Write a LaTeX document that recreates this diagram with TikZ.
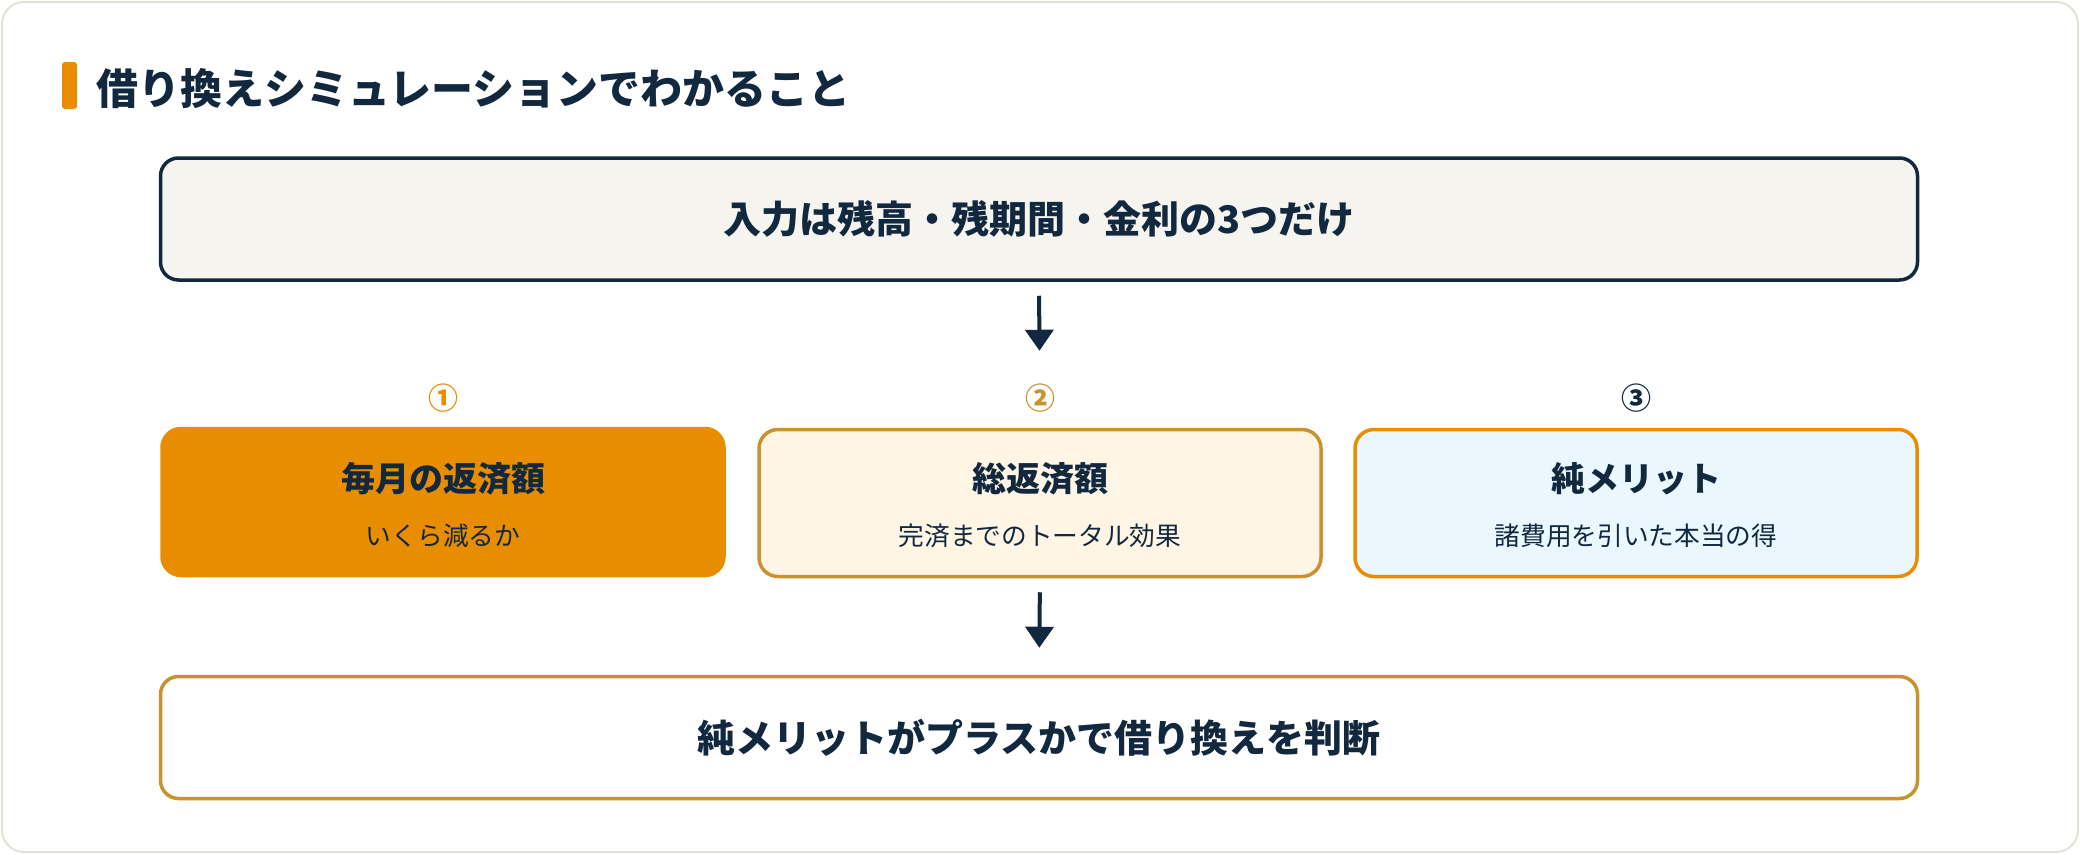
\documentclass[tikz,border=0pt]{standalone}
\usepackage{fontspec}
\setmainfont{Noto Sans CJK JP}
\usetikzlibrary{arrows.meta}
\definecolor{navy}{HTML}{12283F}
\definecolor{orng}{HTML}{E88D00}
\definecolor{gold}{HTML}{C8922F}
\definecolor{cream}{HTML}{FFF5E4}
\definecolor{lblue}{HTML}{EAF8FD}
\definecolor{topfill}{HTML}{F5F4EF}
\definecolor{framec}{HTML}{E4E1D6}
\newcommand\setfs[1]{\fontsize{#1}{#1}\selectfont}
\tikzset{
  bigbox/.style={rounded corners=18pt, line width=3.5pt, minimum width=1757pt, minimum height=122pt, inner sep=0pt, text=navy, font=\setfs{38pt}\bfseries},
  midbox/.style={rounded corners=19pt, line width=3.5pt, minimum width=562pt, minimum height=147pt, inner sep=0pt},
  btitle/.style={text=navy, font=\setfs{34pt}\bfseries, inner sep=0pt},
  bsub/.style={text=navy, font=\setfs{25.7pt}, inner sep=0pt},
  numlbl/.style={font=\setfs{30pt}\bfseries, inner sep=0pt},
  arr/.style={draw=navy, line width=4pt, -{Triangle[width=28pt,length=21pt]}}
}
\begin{document}
\begin{tikzpicture}[x=1pt,y=-1pt]
\useasboundingbox (0,0) rectangle (2080,854);
\draw[framec, fill=white, line width=2pt, rounded corners=22pt] (2,2) rectangle (2078,852);
\fill[orng, rounded corners=3pt] (62,62) rectangle (77,109);
\node[anchor=west, inner sep=0pt, text=navy, font=\setfs{42pt}\bfseries] (title) at (96,89) {借り換えシミュレーションでわかること};

\node[bigbox, draw=navy, fill=topfill] (top) at (1039,219) {入力は残高・残期間・金利の3つだけ};

\node[numlbl, text=orng] (n1) at (443,398) {①};
\node[numlbl, text=gold] (n2) at (1040,398) {②};
\node[numlbl, text=navy] (n3) at (1636,398) {③};

\node[midbox, draw=orng, fill=orng] (b1) at (443,502) {};
\node[midbox, draw=gold, fill=cream] (b2) at (1040,503) {};
\node[midbox, draw=orng, fill=lblue] (b3) at (1636,503) {};

\node[btitle] (b1t) at (443,479) {毎月の返済額};
\node[bsub] (b1s) at (443,536) {いくら減るか};
\node[btitle] (b2t) at (1040,479) {総返済額};
\node[bsub] (b2s) at (1040,536) {完済までのトータル効果};
\node[btitle] (b3t) at (1636,479) {純メリット};
\node[bsub] (b3s) at (1636,536) {諸費用を引いた本当の得};

\node[bigbox, draw=gold, fill=white] (bot) at (1039,737.5) {純メリットがプラスかで借り換えを判断};

\draw[arr, shorten <=14pt, shorten >=77pt] (top.south) -- (b2.north);
\draw[arr, shorten <=14pt, shorten >=27pt] (b2.south) -- (bot.north);
\end{tikzpicture}
\end{document}
